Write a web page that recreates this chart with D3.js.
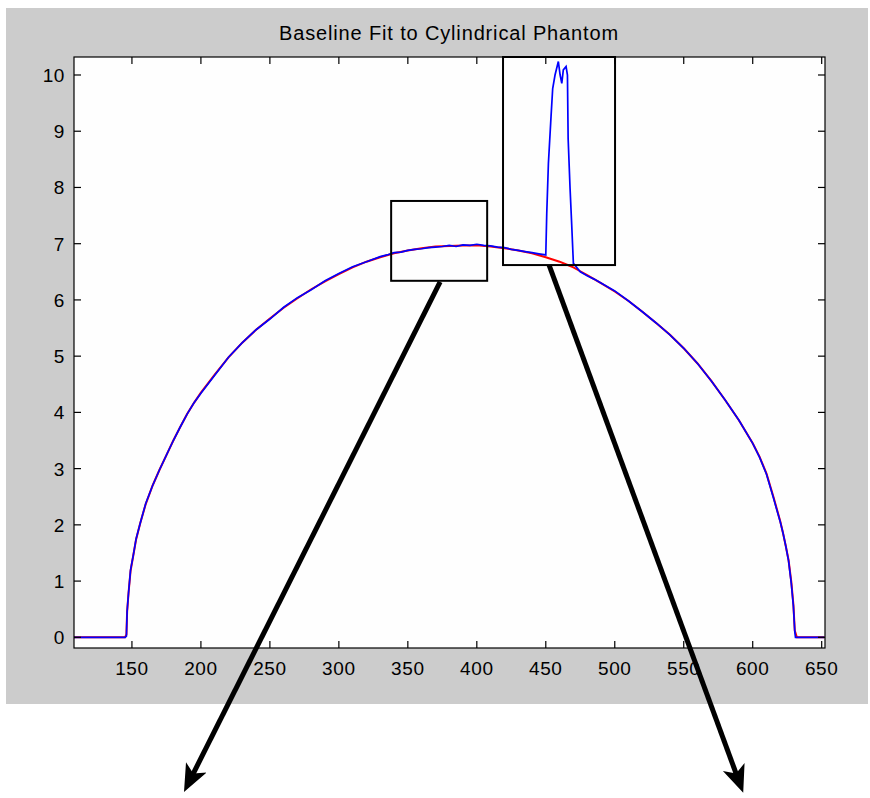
<!DOCTYPE html>
<html>
<head>
<meta charset="utf-8">
<script src="https://cdn.jsdelivr.net/npm/d3@7"></script>
<style>
    body { margin: 0; background: #ffffff; }
    text { font-family: "Liberation Sans", Arial, sans-serif; fill: #000; }
</style>
</head>
<body>
<div id="chart"></div>
<script>

// profile across the phantom (blue, measured)
const measuredX = [108, 145, 146, 146.5, 147.5, 149, 151, 153, 156, 160, 165, 170, 175, 180, 185, 190, 195, 200,
    210, 220, 230, 240, 250, 260, 270, 280, 290, 300, 310, 320, 330, 335, 340, 345, 350, 355, 360, 365, 370, 375,
    380, 385, 390, 395, 400, 405, 410, 415, 420, 425, 430, 435, 440, 445, 450, 450.7, 451.9, 453.8, 455, 456.7,
    459.1, 460.4, 461.6, 462.7, 464.7, 465.7, 466.2, 467.6, 468.8, 470, 475, 480, 485, 490, 500, 510, 520, 530,
    540, 550, 560, 570, 580, 590, 600, 605, 610, 615, 620, 622, 624, 626, 628, 629.5, 630.5, 631, 652]
const measuredY = [0, 0, 0.02, 0.46, 0.78, 1.2, 1.46, 1.75, 2.03, 2.38, 2.70, 2.98, 3.24, 3.50, 3.74, 3.97, 4.17, 4.34,
    4.66, 4.98, 5.24, 5.47, 5.66, 5.87, 6.04, 6.18, 6.34, 6.47, 6.59, 6.68, 6.77, 6.80, 6.84, 6.85, 6.88, 6.90, 6.91, 6.93, 6.94, 6.95,
    6.97, 6.95, 6.98, 6.97, 6.99, 6.97, 6.96, 6.94, 6.93, 6.90, 6.88, 6.86, 6.84, 6.82, 6.80, 7.54, 8.43, 9.26, 9.76, 10.0,
    10.24, 10.0, 9.85, 10.09, 10.15, 10.0, 8.87, 7.98, 7.33, 6.65, 6.50, 6.43, 6.37, 6.30, 6.16, 5.98, 5.79, 5.59,
    5.38, 5.14, 4.87, 4.56, 4.22, 3.86, 3.45, 3.20, 2.90, 2.48, 2.05, 1.85, 1.62, 1.36, 0.95, 0.55, 0.10, 0, 0]

// baseline fit (red)
const fitX = [108, 145, 146, 146.5, 147.5, 149, 151, 153, 156, 160, 165, 170, 175, 180, 185, 190, 195, 200,
    210, 220, 230, 240, 250, 260, 270, 280, 290, 300, 310, 320, 330, 340, 350, 360, 370, 380, 390, 400,
    410, 420, 430, 440, 450, 455, 460, 465, 470, 475, 480, 490, 500, 510, 520, 530, 540, 550, 560, 570, 580,
    590, 600, 605, 610, 615, 620, 622, 624, 626, 628, 629.5, 630.5, 632, 652]
const fitY = [0, 0, 0.05, 0.45, 0.78, 1.18, 1.46, 1.74, 2.03, 2.37, 2.70, 2.98, 3.24, 3.50, 3.74, 3.97, 4.17, 4.35,
    4.67, 4.98, 5.24, 5.47, 5.67, 5.86, 6.03, 6.19, 6.33, 6.46, 6.58, 6.68, 6.76, 6.83, 6.88, 6.92, 6.95, 6.96, 6.97, 6.97,
    6.95, 6.92, 6.88, 6.83, 6.76, 6.72, 6.68, 6.63, 6.58, 6.51, 6.44, 6.30, 6.15, 5.98, 5.79, 5.59, 5.38, 5.14, 4.87, 4.56, 4.22,
    3.86, 3.45, 3.21, 2.91, 2.50, 2.06, 1.85, 1.62, 1.37, 0.98, 0.58, 0.12, 0, 0]

const xTicks = [150, 200, 250, 300, 350, 400, 450, 500, 550, 600, 650]
const yTicks = [0, 1, 2, 3, 4, 5, 6, 7, 8, 9, 10]

// zoom boxes [x0, x1, y0, y1] in data units
const boxes = [[337.9, 407.5, 6.34, 7.76], [419, 500.2, 6.62, 10.32]]
// arrows [fromX, fromY, toX, toY] in data units (ends fall outside the axes)
const arrows = [[373.4, 6.32, 194, -2.445], [452.4, 6.62, 588.3, -2.445]]

const titleText = 'Baseline Fit to Cylindrical Phantom'

////////////////////////////////////
////////////// layout //////////////
////////////////////////////////////

const svgWidth = 870
const svgHeight = 798
const plot = { left: 74, right: 825, top: 57, bottom: 648 }

const svg = d3.select('#chart')
    .append('svg')
    .attr('width', svgWidth)
    .attr('height', svgHeight)

// grey figure background
svg.append('rect')
    .attr('x', 6).attr('y', 8)
    .attr('width', 862).attr('height', 696)
    .attr('fill', '#cccccc')

svg.append('rect')
    .attr('x', plot.left).attr('y', plot.top)
    .attr('width', plot.right - plot.left).attr('height', plot.bottom - plot.top)
    .attr('fill', '#fefefe')

////////////////////////////////////
////////////// scales //////////////
////////////////////////////////////

const x = d3.scaleLinear()
    .domain([108, 652.4])
    .range([plot.left, plot.right])

const y = d3.scaleLinear()
    .domain([-0.19, 10.32])
    .range([plot.bottom, plot.top])

////////////////////////////////////
/////////////// lines //////////////
////////////////////////////////////

const line = d3.line()
    .x(d => x(d[0]))
    .y(d => y(d[1]))

svg.append('path')
    .attr('d', line(fitX.map((v, i) => [v, fitY[i]])))
    .attr('fill', 'none')
    .attr('stroke', '#ff0000')
    .attr('stroke-width', 2)

svg.append('path')
    .attr('d', line(measuredX.map((v, i) => [v, measuredY[i]])))
    .attr('fill', 'none')
    .attr('stroke', '#0000ff')
    .attr('stroke-width', 1.7)

////////////////////////////////////
/////////////// axes ///////////////
////////////////////////////////////

const tickLen = 7

const axes = svg.append('g')
    .attr('stroke', '#000')
    .attr('stroke-width', 1.2)

axes.append('rect')
    .attr('x', plot.left).attr('y', plot.top)
    .attr('width', plot.right - plot.left).attr('height', plot.bottom - plot.top)
    .attr('fill', 'none')

// bottom + top ticks
axes.append('g').selectAll('line')
    .data(xTicks)
    .join('line')
    .attr('x1', d => x(d)).attr('x2', d => x(d))
    .attr('y1', plot.bottom).attr('y2', plot.bottom - tickLen)
axes.append('g').selectAll('line')
    .data(xTicks)
    .join('line')
    .attr('x1', d => x(d)).attr('x2', d => x(d))
    .attr('y1', plot.top).attr('y2', plot.top + tickLen)

// left + right ticks
axes.append('g').selectAll('line')
    .data(yTicks)
    .join('line')
    .attr('x1', plot.left).attr('x2', plot.left + tickLen)
    .attr('y1', d => y(d)).attr('y2', d => y(d))
axes.append('g').selectAll('line')
    .data(yTicks)
    .join('line')
    .attr('x1', plot.right).attr('x2', plot.right - tickLen)
    .attr('y1', d => y(d)).attr('y2', d => y(d))

svg.append('g')
    .selectAll('text')
    .data(xTicks)
    .join('text')
    .attr('x', d => x(d))
    .attr('y', plot.bottom + 27)
    .attr('text-anchor', 'middle')
    .attr('font-size', 19)
    .attr('letter-spacing', 0.6)
    .text(d => d)

svg.append('g')
    .selectAll('text')
    .data(yTicks)
    .join('text')
    .attr('x', plot.left - 9)
    .attr('y', d => y(d) + 7)
    .attr('text-anchor', 'end')
    .attr('font-size', 19)
    .attr('letter-spacing', 0.6)
    .text(d => d)

svg.append('text')
    .attr('x', 449)
    .attr('y', 40)
    .attr('text-anchor', 'middle')
    .attr('font-size', 20)
    .attr('letter-spacing', 0.85)
    .text(titleText)

////////////////////////////////////
//////////// annotations ///////////
////////////////////////////////////

svg.append('g')
    .selectAll('rect')
    .data(boxes)
    .join('rect')
    .attr('x', d => x(d[0]))
    .attr('y', d => y(d[3]))
    .attr('width', d => x(d[1]) - x(d[0]))
    .attr('height', d => y(d[2]) - y(d[3]))
    .attr('fill', 'none')
    .attr('stroke', '#000')
    .attr('stroke-width', 2)

svg.append('defs')
    .append('marker')
    .attr('id', 'head')
    .attr('viewBox', '0 0 10 10')
    .attr('refX', 3)
    .attr('refY', 5)
    .attr('markerWidth', 5.5)
    .attr('markerHeight', 5.5)
    .attr('markerUnits', 'strokeWidth')
    .attr('orient', 'auto')
    .append('path')
    .attr('d', 'M0,0.8 L10,5 L0,9.2 L2.5,5 Z')
    .attr('fill', '#000')

svg.append('g')
    .selectAll('line')
    .data(arrows)
    .join('line')
    .attr('x1', d => x(d[0])).attr('y1', d => y(d[1]))
    .attr('x2', d => x(d[2])).attr('y2', d => y(d[3]))
    .attr('stroke', '#000')
    .attr('stroke-width', 5)
    .attr('marker-end', 'url(#head)')

</script>
</body>
</html>
